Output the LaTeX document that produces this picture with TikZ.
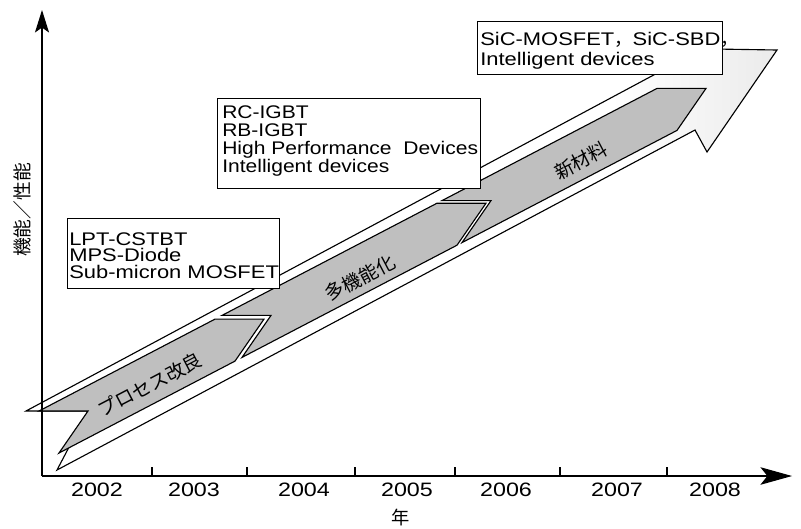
\documentclass[tikz,border=0pt]{standalone}
\usepackage{fontspec}
\setmainfont{Liberation Sans}[FakeStretch=1.2]
\newfontfamily\jp{Noto Sans CJK JP}
\usetikzlibrary{arrows.meta}

% light fade towards the arrow head
\pgfdeclarehorizontalshading{headfade}{100bp}{color(0bp)=(white); color(25bp)=(white); color(64bp)=(white); color(75bp)=(gray!16); color(100bp)=(gray!16)}

\tikzset{
  outline/.style={draw=black, line width=0.8pt, line join=miter},
  bandseg/.style={draw=black, fill=gray!50, line width=0.8pt, line join=miter},
  axisline/.style={draw=black, line width=0.8pt},
  infobox/.style={draw=black, fill=white, line width=0.8pt, inner sep=0pt, anchor=north west},
  infotext/.style={inner sep=0pt, anchor=north west, align=left},
  yearlabel/.style={inner sep=0pt, font=\fontsize{13.8pt}{14pt}\selectfont},
  bandlabel/.style={inner sep=0pt, rotate=27.6, font=\jp\fontsize{13.5pt}{14pt}\selectfont},
}

\begin{document}
\begin{tikzpicture}[x=0.025cm, y=-0.025cm]
\useasboundingbox (0,0) rectangle (801,528);

% outer white arrow
\path[outline, shading=headfade]
  (26,411) -- (663,70) -- (651,48) -- (777,50) -- (707,152) -- (695,130)
  -- (57,470) -- (88,411) -- cycle;

% grey chevron band, three stages
\path[bandseg] (39,411) -- (215,319.1) -- (264,319.1) -- (235,361.1)
  -- (59,453) -- (88,411) -- cycle;
\path[bandseg] (222,315.4) -- (437,203.2) -- (486,203.2) -- (457,245.2)
  -- (242,357.4) -- (271,315.4) -- cycle;
\path[bandseg] (442,200.6) -- (657,88.4) -- (706,88.4) -- (677,130.4)
  -- (462,242.6) -- (491,200.6) -- cycle;

% stage labels
\node[bandlabel] (s1) at (150,385) {プロセス改良};
\node[bandlabel] (s2) at (360,278) {多機能化};
\node[bandlabel] (s3) at (581,161) {新材料};

% device boxes
\node[infobox, minimum width=5.3cm, minimum height=1.75cm] (b1) at (67,218) {};
\node[infotext, font=\fontsize{13pt}{12.05pt}\selectfont] (t1) at (69,232)
  {LPT-CSTBT\\MPS-Diode\\Sub-micron MOSFET};

\node[infobox, minimum width=6.575cm, minimum height=2.25cm] (b2) at (217,98) {};
\node[infotext, font=\addfontfeature{FakeStretch=1.15}\fontsize{13pt}{12.97pt}\selectfont] (t2) at (222,105)
  {RC-IGBT\\RB-IGBT\\High Performance\ \ Devices\\Intelligent devices};

\node[infobox, minimum width=6.125cm, minimum height=1.325cm] (b3) at (477,21) {};
\node[infotext, font=\fontsize{13pt}{14.17pt}\selectfont] (t3) at (480,32)
  {SiC-MOSFET{\jp ，}SiC-SBD{\jp ，}\\Intelligent devices};

% axes
\coordinate (origin) at (42,476);
\coordinate (ytip) at (42,10);
\coordinate (xtip) at (792,476);
\draw[axisline, -{Stealth[length=16pt, width=10pt, inset=3.5pt]}] (origin) -- (ytip);
\draw[axisline, -{Stealth[length=22.5pt, width=12.5pt, inset=5pt]}] (origin) -- (xtip);
\foreach \x in {152,247,355,455,560,667}
  \draw[axisline] (\x,476) -- (\x,467);

% year labels
\node[yearlabel] (y2002) at (97,490) {2002};
\node[yearlabel] (y2003) at (194,490) {2003};
\node[yearlabel] (y2004) at (304,490) {2004};
\node[yearlabel] (y2005) at (407,490) {2005};
\node[yearlabel] (y2006) at (506,490) {2006};
\node[yearlabel] (y2007) at (617,490) {2007};
\node[yearlabel] (y2008) at (715,490) {2008};

% axis titles
\node[inner sep=0pt, font=\jp\fontsize{13pt}{14pt}\selectfont] (xtitle) at (401,518) {年};
\node[inner sep=0pt, rotate=90, font=\jp\fontsize{13.3pt}{14pt}\selectfont] (ytitle) at (22,210) {機能／性能};
\end{tikzpicture}
\end{document}
